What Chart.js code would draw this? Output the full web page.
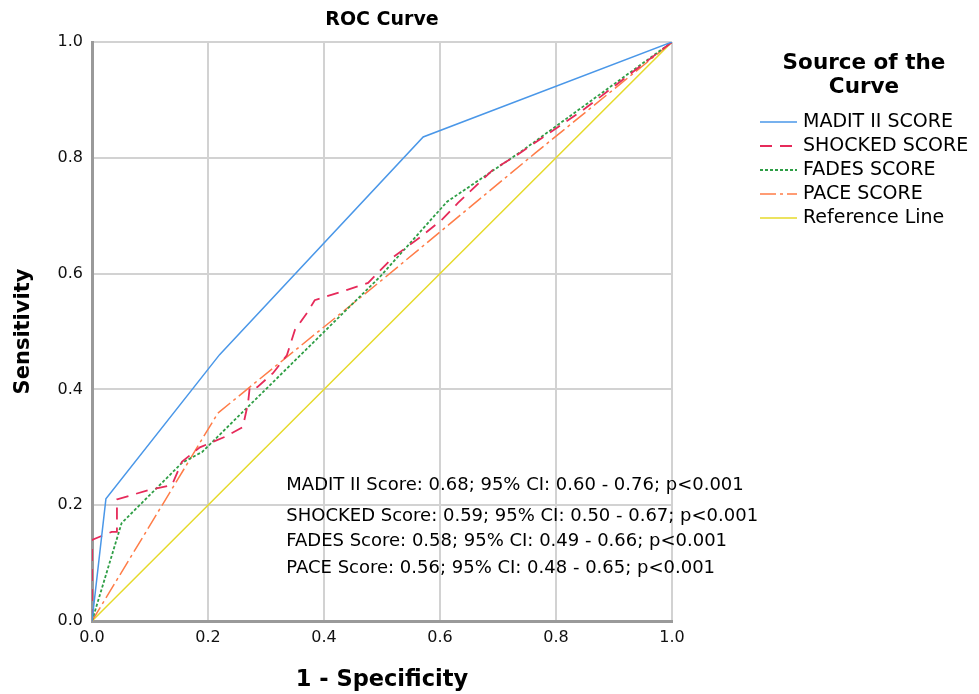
<!DOCTYPE html>
<html>
<head>
<meta charset="utf-8">
<title>ROC Curve</title>
<script src="https://cdn.jsdelivr.net/npm/chart.js@4.4.0/dist/chart.umd.min.js"></script>
<style>
  body { margin: 0; background: #fff; }
  canvas { display: block; }
</style>
</head>
<body>
<canvas id="roc-chart" width="979" height="694"></canvas>
<script>
// ROC curve points (1 - specificity, sensitivity)
const maditFpr = [0, 0.024, 0.22, 0.571, 1];
const maditTpr = [0, 0.211, 0.46, 0.836, 1];

const shockedFpr = [0, 0, 0.034, 0.043, 0.043, 0.097, 0.138, 0.155, 0.186, 0.229, 0.26, 0.269, 0.272, 0.285, 0.312, 0.336, 0.35, 0.372, 0.384, 0.44, 0.476, 0.52, 0.566, 0.603, 0.631, 0.691, 0.733, 0.85, 1];
const shockedTpr = [0, 0.14, 0.154, 0.154, 0.21, 0.226, 0.235, 0.275, 0.30, 0.318, 0.335, 0.376, 0.404, 0.404, 0.428, 0.459, 0.503, 0.534, 0.554, 0.572, 0.584, 0.629, 0.663, 0.693, 0.722, 0.779, 0.805, 0.885, 1];

const fadesFpr = [0, 0.051, 0.155, 0.19, 0.497, 0.612, 0.743, 1];
const fadesTpr = [0, 0.169, 0.273, 0.292, 0.595, 0.724, 0.813, 1];

const paceFpr = [0, 0.217, 0.272, 0.5, 0.764, 1];
const paceTpr = [0, 0.359, 0.404, 0.589, 0.808, 1];

const refFpr = [0, 1];
const refTpr = [0, 1];

const seriesLabels = ['MADIT II SCORE', 'SHOCKED SCORE', 'FADES SCORE', 'PACE SCORE', 'Reference Line'];
const axisTicks = [0, 0.2, 0.4, 0.6, 0.8, 1.0];

const aucNotes = [
    'MADIT II Score: 0.68; 95% CI: 0.60 - 0.76; p<0.001',
    'SHOCKED Score: 0.59; 95% CI: 0.50 - 0.67; p<0.001',
    'FADES Score: 0.58; 95% CI: 0.49 - 0.66; p<0.001',
    'PACE Score: 0.56; 95% CI: 0.48 - 0.65; p<0.001'
];
const aucNoteY = [0.235, 0.18, 0.137, 0.0915];

// Line styles
const colors = ['#4a97e8', '#e62a5a', '#2e9e45', '#ff7c47', '#e6da2a'];
const dashes = [[], [12, 8], [3, 2], [16, 4, 3, 4], []];
const widths = [1.5, 1.8, 1.8, 1.5, 1.5];

const toPoints = (xs, ys) => xs.map((x, i) => ({ x: x, y: ys[i] }));
const FONT = "'DejaVu Sans', sans-serif";

// Title over the plot area, legend on the right, AUC notes
const decorations = {
    id: 'decorations',
    afterDraw(chart) {
        const { ctx, chartArea, scales } = chart;
        ctx.save();
        ctx.fillStyle = '#000';
        ctx.textBaseline = 'middle';

        // title
        ctx.textAlign = 'center';
        ctx.font = 'bold 19px ' + FONT;
        ctx.fillText('ROC Curve', (chartArea.left + chartArea.right) / 2, 20);

        // legend
        ctx.font = 'bold 21.5px ' + FONT;
        ctx.fillText('Source of the', 864, 63);
        ctx.fillText('Curve', 864, 87);

        ctx.textAlign = 'left';
        ctx.font = '19px ' + FONT;
        seriesLabels.forEach((label, i) => {
            const y = 122 + i * 24;
            ctx.beginPath();
            ctx.strokeStyle = colors[i];
            ctx.lineWidth = widths[i];
            ctx.setLineDash(dashes[i]);
            ctx.moveTo(760, y);
            ctx.lineTo(797, y);
            ctx.stroke();
            ctx.fillText(label, 803, y);
        });
        ctx.setLineDash([]);

        // AUC notes
        ctx.font = '18px ' + FONT;
        const x = scales.x.getPixelForValue(0.335);
        aucNotes.forEach((note, i) => {
            ctx.fillText(note, x, scales.y.getPixelForValue(aucNoteY[i]));
        });
        ctx.restore();
    }
};

const makeDataset = (i, xs, ys) => ({
    label: seriesLabels[i],
    data: toPoints(xs, ys),
    borderColor: colors[i],
    borderWidth: widths[i],
    borderDash: dashes[i],
    pointRadius: 0,
    fill: false,
    tension: 0
});

const ctx = document.getElementById('roc-chart').getContext('2d');
const rocChart = new Chart(ctx, {
    type: 'line',
    data: {
        datasets: [
            makeDataset(0, maditFpr, maditTpr),
            makeDataset(1, shockedFpr, shockedTpr),
            makeDataset(2, fadesFpr, fadesTpr),
            makeDataset(3, paceFpr, paceTpr),
            makeDataset(4, refFpr, refTpr)
        ]
    },
    options: {
        responsive: false,
        animation: false,
        devicePixelRatio: 1,
        layout: { padding: { top: 42, right: 307, left: 0, bottom: 0 } },
        plugins: {
            legend: { display: false },
            title: { display: false },
            tooltip: { enabled: false }
        },
        scales: {
            x: {
                type: 'linear',
                min: 0,
                max: 1,
                afterFit: scale => { scale.height = 73; },
                afterBuildTicks: scale => { scale.ticks = axisTicks.map(v => ({ value: v })); },
                grid: { color: '#d2d2d2', lineWidth: 2, drawTicks: false },
                border: { color: '#9a9a9a', width: 3 },
                ticks: {
                    padding: 7,
                    color: '#111',
                    font: { family: FONT, size: 16 },
                    callback: v => v.toFixed(1)
                },
                title: {
                    display: true,
                    text: '1 - Specificity',
                    color: '#000',
                    font: { family: FONT, size: 22.5, weight: 'bold' },
                    padding: { top: 0, bottom: 0 }
                }
            },
            y: {
                type: 'linear',
                min: 0,
                max: 1,
                afterFit: scale => { scale.width = 92; },
                afterBuildTicks: scale => { scale.ticks = axisTicks.map(v => ({ value: v })); },
                grid: { color: '#d2d2d2', lineWidth: 2, drawTicks: false },
                border: { color: '#9a9a9a', width: 3 },
                ticks: {
                    padding: 9,
                    color: '#111',
                    font: { family: FONT, size: 16 },
                    callback: v => v.toFixed(1)
                },
                title: {
                    display: true,
                    text: 'Sensitivity',
                    color: '#000',
                    font: { family: FONT, size: 21, weight: 'bold' },
                    padding: { top: 11, bottom: 0 }
                }
            }
        }
    },
    plugins: [decorations]
});
</script>
</body>
</html>
